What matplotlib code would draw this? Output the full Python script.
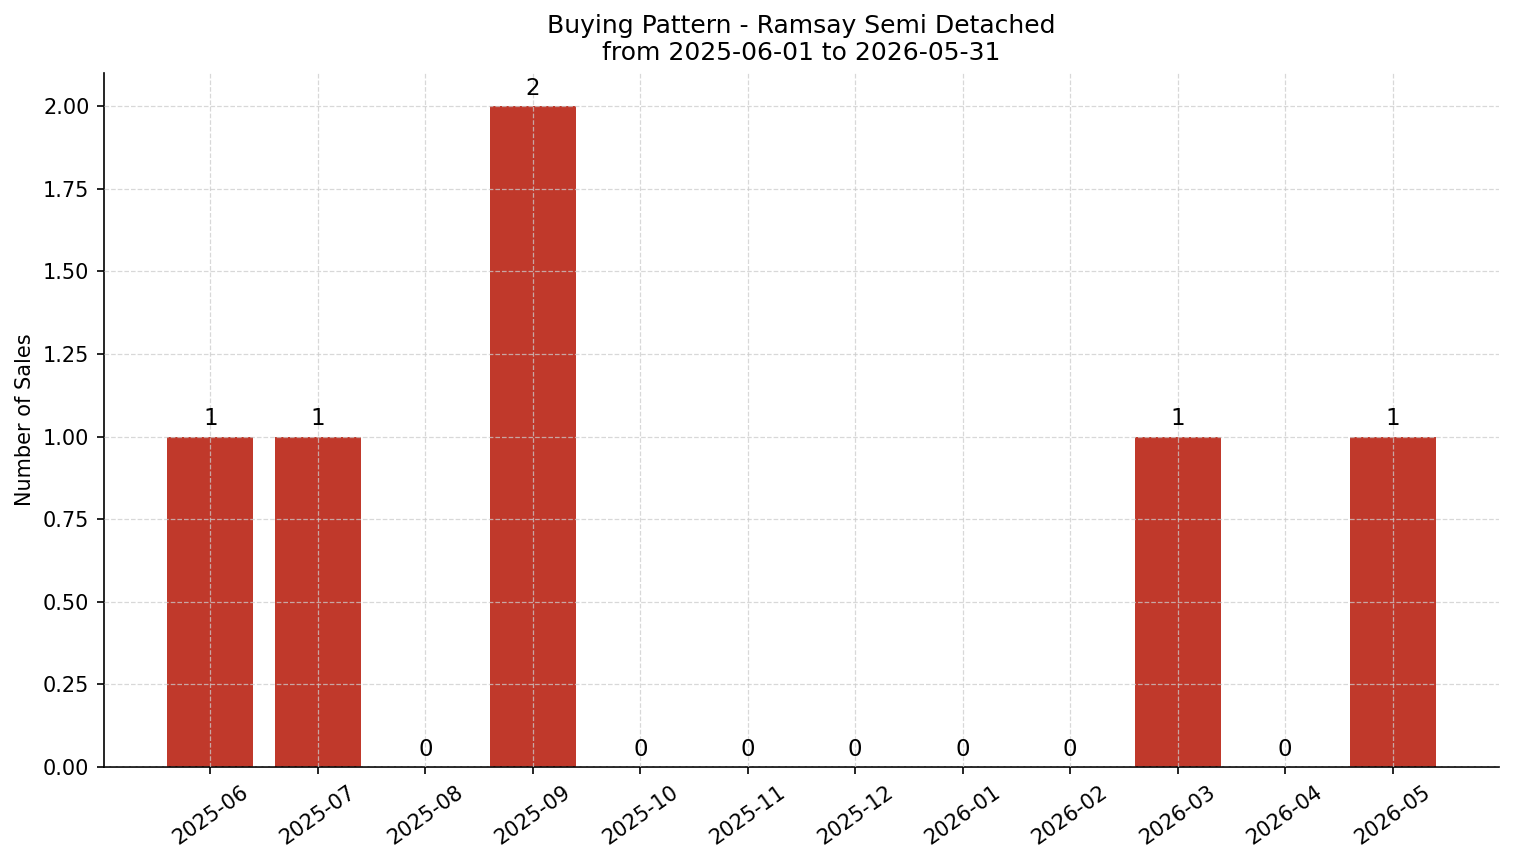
import matplotlib
matplotlib.use("Agg")
import matplotlib.pyplot as plt

months = ["2025-06", "2025-07", "2025-08", "2025-09", "2025-10", "2025-11",
          "2025-12", "2026-01", "2026-02", "2026-03", "2026-04", "2026-05"]
sales = [1, 1, 0, 2, 0, 0, 0, 0, 0, 1, 0, 1]

fig = plt.figure(figsize=(1514 / 150, 863 / 150), dpi=150)
ax = fig.add_axes([104 / 1514, 1 - 767 / 863, (1499 - 104) / 1514, (767 - 73) / 863])

x = list(range(len(months)))
bars = ax.bar(x, sales, width=0.8, color="#c0392b", zorder=2)
ax.bar_label(bars, labels=[str(v) for v in sales], padding=3, fontsize=11)

ax.set_xticks(x)
ax.set_xticklabels(months, rotation=35, ha="center", fontsize=10)
ax.tick_params(axis="y", labelsize=10)
ax.set_ylim(0, 2.1)
ax.yaxis.set_major_formatter(matplotlib.ticker.FormatStrFormatter("%.2f"))
ax.set_ylabel("Number of Sales", fontsize=10)
ax.set_title("Buying Pattern - Ramsay Semi Detached\nfrom 2025-06-01 to 2026-05-31", fontsize=12)
ax.grid(True, linestyle="--", linewidth=0.6, color="#cccccc", alpha=0.75, zorder=3)
ax.set_axisbelow(False)
ax.spines["top"].set_visible(False)
ax.spines["right"].set_visible(False)

fig.savefig("out.png", dpi=150)
